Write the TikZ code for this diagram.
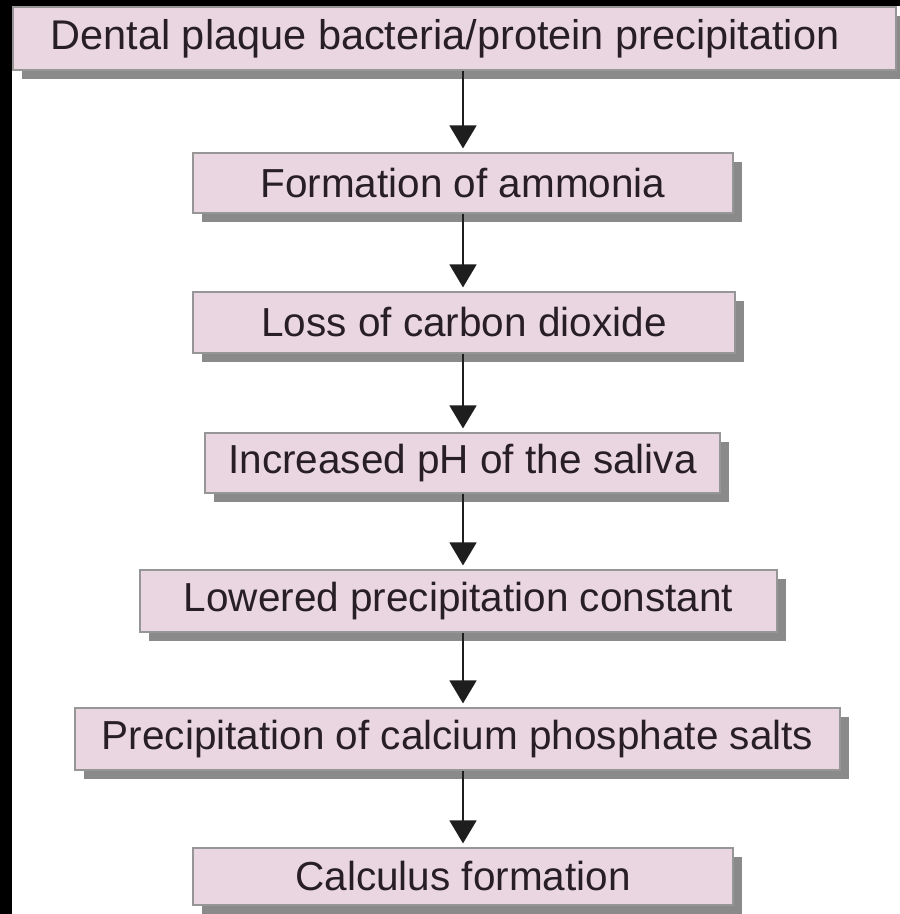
\documentclass[tikz,border=0pt]{standalone}
\usepackage{fontspec}
\setmainfont{Liberation Sans}
\usetikzlibrary{arrows.meta,shadows}
\definecolor{boxpink}{RGB}{233,214,224}
\definecolor{boxedge}{RGB}{150,150,150}
\definecolor{boxshadow}{RGB}{138,138,138}
\definecolor{inktext}{RGB}{40,30,38}
\definecolor{arrowink}{RGB}{30,30,30}
\tikzset{
  flowbox/.style={draw=boxedge, line width=1.2pt, fill=boxpink, inner sep=0pt,
    minimum height=61pt, text=inktext,
    font=\fontsize{40.5}{48}\selectfont,
    drop shadow={shadow xshift=9pt, shadow yshift=-9pt, fill=boxshadow, opacity=1}},
  flowtext/.style={inner sep=0pt, text=inktext, font=\fontsize{41.5}{48}\selectfont},
  flowarrow/.style={draw=arrowink, line width=1.6pt,
    -{Triangle[width=27pt,length=23pt]}, shorten >=4pt}
}
\begin{document}
\begin{tikzpicture}[x=1pt,y=-1pt]
\useasboundingbox (0,0) rectangle (900,914);
\clip (0,0) rectangle (900,914);
\fill[white] (0,0) rectangle (900,914);
\fill[black] (0,0) rectangle (12,914);
\fill[black] (0,0) rectangle (900,6);
% boxes
\node[flowbox, minimum width=883pt, minimum height=63pt] (b1) at (454.5,38.5) {};
\node[flowtext] (t1) at (445,39) {Dental plaque bacteria/protein precipitation};
\node[flowbox, minimum width=540pt, minimum height=60pt] (b2) at (463,183) {Formation of ammonia};
\node[flowbox, minimum width=542pt] (b3) at (464,322.5) {Loss of carbon dioxide};
\node[flowbox, minimum width=515pt, minimum height=60pt] (b4) at (462.5,463) {Increased pH of the saliva};
\node[flowbox, minimum width=637pt, minimum height=62pt] (b5) at (458.5,601) {Lowered precipitation constant};
\node[flowbox, minimum width=765pt, minimum height=62pt] (b6) at (457.5,739) {Precipitation of calcium phosphate salts};
\node[flowbox, minimum width=540pt, minimum height=57pt] (b7) at (463,876.5) {Calculus formation};
% arrows
\draw[flowarrow] (b1.south -| b2.north) -- (b2.north);
\draw[flowarrow] (b2.south) -- (b2.south |- b3.north);
\draw[flowarrow] (b3.south -| b2.south) -- (b2.south |- b4.north);
\draw[flowarrow] (b4.south -| b2.south) -- (b2.south |- b5.north);
\draw[flowarrow] (b5.south -| b2.south) -- (b2.south |- b6.north);
\draw[flowarrow] (b6.south -| b2.south) -- (b7.north);
\end{tikzpicture}
\end{document}
